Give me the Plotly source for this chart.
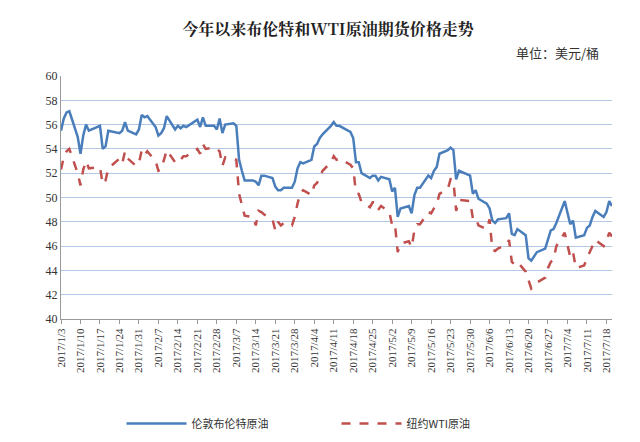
import plotly.graph_objects as go
import pandas as pd

dates = ["1/3","1/4","1/5","1/6","1/9","1/10","1/11","1/12","1/13","1/17","1/18","1/19","1/20","1/24","1/25","1/26","1/27","1/30","1/31",
"2/1","2/2","2/3","2/6","2/7","2/8","2/9","2/10","2/13","2/14","2/15","2/16","2/17","2/21","2/22","2/23","2/24","2/27","2/28",
"3/1","3/2","3/3","3/6","3/7","3/8","3/9","3/10","3/13","3/14","3/15","3/16","3/17","3/20","3/21","3/22","3/23","3/24","3/27","3/28","3/29","3/30","3/31",
"4/3","4/4","4/5","4/6","4/7","4/10","4/11","4/12","4/13","4/17","4/18","4/19","4/20","4/21","4/24","4/25","4/26","4/27","4/28",
"5/1","5/2","5/3","5/4","5/5","5/8","5/9","5/10","5/11","5/12","5/15","5/16","5/17","5/18","5/19","5/22","5/23","5/24","5/25","5/26","5/30","5/31",
"6/1","6/2","6/5","6/6","6/7","6/8","6/9","6/12","6/13","6/14","6/15","6/16","6/19","6/20","6/21","6/22","6/23","6/26","6/27","6/28","6/29","6/30",
"7/3","7/5","7/6","7/7","7/10","7/11","7/12","7/13","7/14","7/17","7/18","7/19","7/20"]

brent = [55.5,56.5,57.0,57.1,55.0,53.6,55.1,56.0,55.5,55.9,54.0,54.2,55.5,55.3,55.5,56.2,55.5,55.2,55.6,
56.8,56.6,56.7,55.8,55.1,55.3,55.7,56.7,55.6,55.9,55.7,55.9,55.8,56.4,55.8,56.6,55.9,55.9,55.6,
56.5,55.3,56.0,56.1,55.9,53.1,52.2,51.4,51.4,51.3,51.0,51.8,51.8,51.6,50.9,50.6,50.6,50.8,50.8,51.3,52.4,52.9,52.8,
53.1,54.2,54.4,54.9,55.2,55.9,56.2,55.9,55.9,55.4,54.9,52.9,52.9,52.0,51.6,51.8,51.8,51.4,51.7,
51.5,50.5,50.8,48.4,49.1,49.3,48.7,50.2,50.8,50.8,51.8,51.6,52.2,52.5,53.6,53.9,54.1,53.9,51.5,52.2,51.8,50.3,
50.6,49.9,49.5,49.1,48.1,47.9,48.2,48.3,48.7,47.0,46.9,47.4,46.9,45.0,44.8,45.2,45.5,45.8,46.6,47.3,47.4,47.9,
49.7,47.8,48.1,46.7,46.9,47.5,47.7,48.4,48.9,48.4,48.8,49.7,49.3]

wti = [52.3,53.3,53.8,54.0,52.0,51.0,52.3,53.0,52.4,52.5,51.1,51.4,52.4,53.2,52.8,53.8,53.2,52.6,52.8,
53.9,53.5,53.8,53.0,52.2,52.3,53.0,53.9,52.9,53.2,53.1,53.4,53.4,54.0,53.6,54.4,54.0,54.1,54.0,
53.8,52.6,53.3,53.2,53.1,50.3,49.3,48.5,48.4,47.7,48.9,48.8,48.6,48.2,47.3,48.0,47.7,47.9,47.7,48.4,49.5,50.4,50.6,
50.2,51.0,51.2,51.7,52.2,52.9,53.4,53.1,53.2,52.7,52.4,50.4,50.3,49.6,49.2,49.6,49.6,49.0,49.3,
48.8,47.7,47.8,45.5,46.2,46.4,45.9,47.3,47.8,47.8,48.8,48.7,49.1,49.4,50.3,50.7,51.5,51.4,48.9,49.8,49.7,48.3,
48.4,47.7,47.4,48.2,45.7,45.6,45.8,46.1,46.5,44.7,44.5,44.7,43.9,43.2,42.5,42.7,43.0,43.4,44.2,44.7,44.9,46.0,
47.1,45.1,45.5,44.2,44.4,45.0,45.5,46.1,46.5,46.0,46.4,47.1,46.8]

tick_labels = ["1/3","1/10","1/17","1/24","1/31","2/7","2/14","2/21","2/28","3/7","3/14","3/21","3/28","4/4","4/11","4/18","4/25","5/2","5/9","5/16","5/23","5/30","6/6","6/13","6/20","6/27","7/4","7/11","7/18"]

x = pd.to_datetime(["2017/" + d for d in dates])
tv = pd.to_datetime(["2017/" + d for d in tick_labels])

fig = go.Figure()
fig.add_trace(go.Scatter(x=x, y=brent, mode="lines", name="伦敦布伦特原油",
                         line=dict(color="#4a7ebb", width=2.5)))
fig.add_trace(go.Scatter(x=x, y=wti, mode="lines", name="纽约WTI原油",
                         line=dict(color="#c0504d", width=2.5, dash="dash")))

fig.update_layout(
    width=640, height=442, paper_bgcolor="white", plot_bgcolor="white",
    margin=dict(l=53, r=36, t=68, b=110),
    font=dict(family="Noto Sans CJK SC", size=11, color="#333"),
    title=dict(text="<b>今年以来布伦特和WTI原油期货价格走势</b>", x=0.5, xanchor="center", y=0.965,
               font=dict(size=16, color="#222", family="Noto Serif CJK SC, Noto Sans CJK SC")),
    showlegend=True,
    legend=dict(orientation="h", x=0.5, xanchor="center", y=-0.37, yanchor="top",
                font=dict(size=11), itemwidth=60, entrywidth=140),
    xaxis=dict(type="date", range=[pd.Timestamp("2017-01-03"), pd.Timestamp("2017-07-20")],
               tickvals=tv, ticktext=["2017/" + t for t in tick_labels], tickangle=-90,
               showgrid=False, showline=True, linecolor="#999", ticks="outside", ticklen=4,
               tickcolor="#999", tickfont=dict(family="Liberation Serif", size=11)),
    yaxis=dict(range=[40, 60], dtick=2, showgrid=True, gridcolor="#b4c7e7", showline=True,
               linecolor="#999", zeroline=False, tickfont=dict(family="Liberation Serif", size=12)),
    annotations=[dict(text="单位：美元/桶", xref="paper", yref="paper", x=0.98, y=1.05,
                      xanchor="right", yanchor="bottom", showarrow=False, font=dict(size=13, color="#333"))]
)

fig.write_html("out.html")
